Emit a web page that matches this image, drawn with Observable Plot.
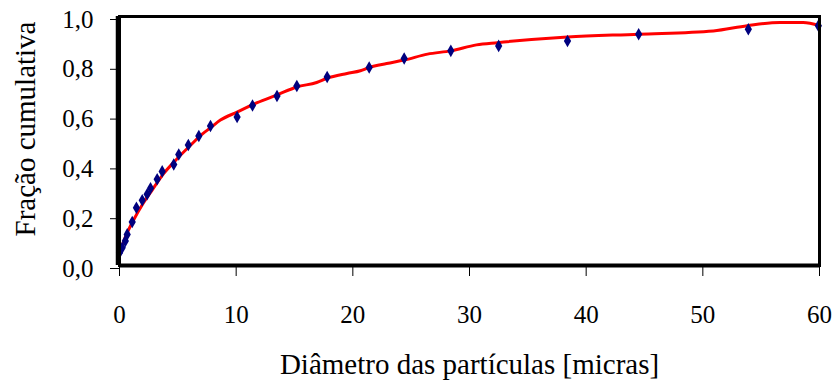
<!DOCTYPE html>
<html>
<head>
<meta charset="utf-8">
<script src="https://cdn.jsdelivr.net/npm/d3@7"></script>
<script src="https://cdn.jsdelivr.net/npm/@observablehq/plot@0.6"></script>
<style>
  html, body { margin: 0; padding: 0; background: #fff; }
</style>
</head>
<body>
<div id="chart"></div>
<script>
// Measured points (diameter in micras, cumulative fraction)
const diam = [0, 0.23, 0.5, 0.66, 1.09, 1.45, 1.95, 2.37, 2.66, 3.23, 3.66, 4.65, 5.08, 5.9, 6.8, 7.8, 10.08, 11.4, 13.5, 15.2, 17.8, 21.4, 24.4, 28.4, 32.5, 38.4, 44.5, 53.9, 59.9];
const frac = [0.051, 0.071, 0.098, 0.125, 0.175, 0.232, 0.262, 0.286, 0.31, 0.346, 0.378, 0.406, 0.446, 0.484, 0.52, 0.56, 0.596, 0.643, 0.681, 0.721, 0.757, 0.795, 0.831, 0.862, 0.882, 0.902, 0.929, 0.949, 0.963];

// Fitted curve (red line)
const fitX = [0, 0.51, 1.23, 1.94, 2.8, 3.8, 4.8, 5.94, 7.09, 7.8, 8.65, 10.08, 11.8, 13.5, 15.2, 16.9, 17.8, 19.5, 20.65, 21.4, 22.9, 24.4, 26.4, 28.4, 30.6, 32.4, 38.4, 44.5, 50.9, 53.8, 56.6, 58.6, 60];
const fitY = [0.05, 0.115, 0.185, 0.243, 0.303, 0.37, 0.422, 0.476, 0.528, 0.553, 0.584, 0.616, 0.654, 0.685, 0.717, 0.735, 0.752, 0.771, 0.782, 0.795, 0.811, 0.825, 0.849, 0.862, 0.886, 0.895, 0.918, 0.929, 0.942, 0.963, 0.976, 0.976, 0.963];

const xTicks = [0, 10, 20, 30, 40, 50, 60];
const yTicks = [0, 0.2, 0.4, 0.6, 0.8, 1.0];
const xLabel = "Diâmetro das partículas [micras]";
const yLabel = "Fração cumulativa";

const points = diam.map((d, i) => ({x: d, y: frac[i]}));
const fit = fitX.map((d, i) => ({x: d, y: fitY[i]}));

const chart = Plot.plot({
  width: 833,
  height: 387,
  marginLeft: 119,
  marginRight: 14,
  marginTop: 16,
  marginBottom: 122,
  style: {fontFamily: "'Liberation Serif', 'Times New Roman', serif", fontSize: "25px", background: "#fff", color: "#000"},
  x: {domain: [0, 60]},
  y: {domain: [0, 1]},
  marks: [
    Plot.axisX({ticks: xTicks, tickSize: 11, tickPadding: 29, label: null, tickFormat: d => String(d)}),
    Plot.axisY({ticks: yTicks, tickSize: 9, tickPadding: 17, dy: 3, label: null, tickFormat: d => d.toFixed(1).replace(".", ",")}),
    Plot.line(fit, {x: "x", y: "y", stroke: "#ff0000", strokeWidth: 3, curve: "monotone-x"}),
    Plot.dot(points, {x: "x", y: "y", symbol: "diamond", fill: "#00007f", r: 3.8}),
    Plot.frame({stroke: "#000", strokeWidth: 3}),
    Plot.ruleX([0], {stroke: "#000", strokeWidth: 4.5, dx: -1.5}),
    Plot.ruleY([0], {stroke: "#000", strokeWidth: 4}),
    Plot.text([xLabel], {frameAnchor: "bottom", dy: 108, fontSize: 29}),
    Plot.text([yLabel], {frameAnchor: "left", textAnchor: "middle", dx: -94, dy: -12, rotate: -90, fontSize: 29})
  ]
});
document.getElementById("chart").appendChild(chart);
</script>
</body>
</html>
